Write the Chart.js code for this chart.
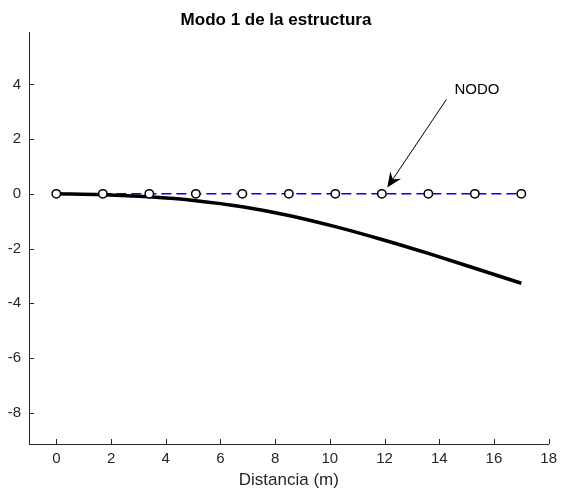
<!DOCTYPE html>
<html>
<head>
<meta charset="utf-8">
<script src="https://cdn.jsdelivr.net/npm/chart.js@4/dist/chart.umd.min.js"></script>
<style>
  body { margin: 0; background: #fff; }
  #wrap { width: 563px; height: 497px; }
</style>
</head>
<body>
<div id="wrap"><canvas id="modeChart"></canvas></div>
<script>
// node positions along the beam (m)
var nodeX = [0, 1.7, 3.4, 5.1, 6.8, 8.5, 10.2, 11.9, 13.6, 15.3, 17];
var nodeY = [0, 0, 0, 0, 0, 0, 0, 0, 0, 0, 0];
// deformed shape, mode 1
var modeY = [0, -0.03, -0.11, -0.25, -0.47, -0.79, -1.20, -1.67, -2.18, -2.72, -3.27];

var xTicks = [0, 2, 4, 6, 8, 10, 12, 14, 16, 18];
var yTicks = [-8, -6, -4, -2, 0, 2, 4];

// annotation: text position and arrow (data units)
var noteText = 'NODO';
var notePos = [15.38, 3.82];
var arrowFrom = [14.26, 3.45];
var arrowTo = [12.1, 0.23];

var axisColor = '#262626';
var fontFam = '"Liberation Sans", Arial, Helvetica, sans-serif';

function pts(xs, ys) {
    return xs.map(function(x, i) { return {x: x, y: ys[i]}; });
}

var insideTicks = {
    id: 'insideTicks',
    afterDraw: function(chart) {
        var ctx = chart.ctx;
        var xs = chart.scales.x, ys = chart.scales.y;
        var a = chart.chartArea;
        ctx.save();
        ctx.strokeStyle = axisColor;
        ctx.lineWidth = 1;
        ctx.beginPath();
        xTicks.forEach(function(v) {
            var px = Math.round(xs.getPixelForValue(v)) + 0.5;
            ctx.moveTo(px, a.bottom);
            ctx.lineTo(px, a.bottom - 5);
        });
        yTicks.forEach(function(v) {
            var py = Math.round(ys.getPixelForValue(v)) + 0.5;
            ctx.moveTo(a.left, py);
            ctx.lineTo(a.left + 5, py);
        });
        ctx.stroke();

        // NODO arrow
        var x1 = xs.getPixelForValue(arrowFrom[0]), y1 = ys.getPixelForValue(arrowFrom[1]);
        var x2 = xs.getPixelForValue(arrowTo[0]), y2 = ys.getPixelForValue(arrowTo[1]);
        var ang = Math.atan2(y2 - y1, x2 - x1);
        var len = 15, wid = 6.5, back = 10;
        ctx.strokeStyle = '#000';
        ctx.fillStyle = '#000';
        ctx.beginPath();
        ctx.moveTo(x1, y1);
        ctx.lineTo(x2 - Math.cos(ang) * back, y2 - Math.sin(ang) * back);
        ctx.stroke();
        ctx.translate(x2, y2);
        ctx.rotate(ang);
        ctx.beginPath();
        ctx.moveTo(0, 0);
        ctx.lineTo(-len, -wid);
        ctx.lineTo(-back, 0);
        ctx.lineTo(-len, wid);
        ctx.closePath();
        ctx.fill();
        ctx.setTransform(1, 0, 0, 1, 0, 0);

        ctx.font = '15px ' + fontFam;
        ctx.fillStyle = '#000';
        ctx.textAlign = 'center';
        ctx.textBaseline = 'middle';
        ctx.fillText(noteText, xs.getPixelForValue(notePos[0]), ys.getPixelForValue(notePos[1]));
        ctx.restore();
    }
};

new Chart('modeChart', {
    type: 'scatter',
    data: {
        datasets: [{
            label: 'Estructura',
            data: pts(nodeX, nodeY),
            showLine: true,
            borderColor: 'rgb(0,0,255)',
            borderWidth: 1.5,
            borderDash: [10, 5],
            pointRadius: 0,
            order: 3
        }, {
            label: 'Modo 1',
            data: pts(nodeX, modeY),
            showLine: true,
            borderColor: '#000',
            borderWidth: 3.5,
            cubicInterpolationMode: 'monotone',
            pointRadius: 0,
            order: 2
        }, {
            label: 'Nodos',
            data: pts(nodeX, nodeY),
            showLine: false,
            pointRadius: 4.2,
            pointBorderWidth: 1.5,
            pointBorderColor: '#000',
            pointBackgroundColor: '#fff',
            order: 1
        }]
    },
    options: {
        responsive: true,
        maintainAspectRatio: false,
        animation: false,
        layout: { padding: { left: 0, right: 11, top: 0, bottom: 0 } },
        plugins: {
            legend: { display: false },
            tooltip: { enabled: false },
            title: {
                display: true,
                text: 'Modo 1 de la estructura',
                color: '#000',
                font: { family: fontFam, size: 17, weight: 'bold', lineHeight: 1.2 },
                padding: { top: 10, bottom: 1.6 }
            }
        },
        scales: {
            x: {
                type: 'linear',
                min: -1,
                max: 18,
                afterBuildTicks: function(s) { s.ticks = xTicks.map(function(v) { return {value: v}; }); },
                afterFit: function(s) { s.height = 53; },
                grid: { display: true, drawOnChartArea: false, drawTicks: false },
                border: { display: true, color: axisColor, width: 1 },
                ticks: { color: axisColor, padding: 6, maxRotation: 0, font: { family: fontFam, size: 15 } },
                title: {
                    display: true,
                    text: 'Distancia (m)',
                    color: axisColor,
                    font: { family: fontFam, size: 17, lineHeight: 1.2 },
                    padding: { top: 0, bottom: 6 }
                }
            },
            y: {
                type: 'linear',
                min: -9.15,
                max: 5.92,
                afterBuildTicks: function(s) { s.ticks = yTicks.map(function(v) { return {value: v}; }); },
                afterFit: function(s) { s.width = 29; },
                grid: { display: true, drawOnChartArea: false, drawTicks: false },
                border: { display: true, color: axisColor, width: 1 },
                ticks: { color: axisColor, padding: 8, font: { family: fontFam, size: 15 } }
            }
        }
    },
    plugins: [insideTicks]
});
</script>
</body>
</html>
